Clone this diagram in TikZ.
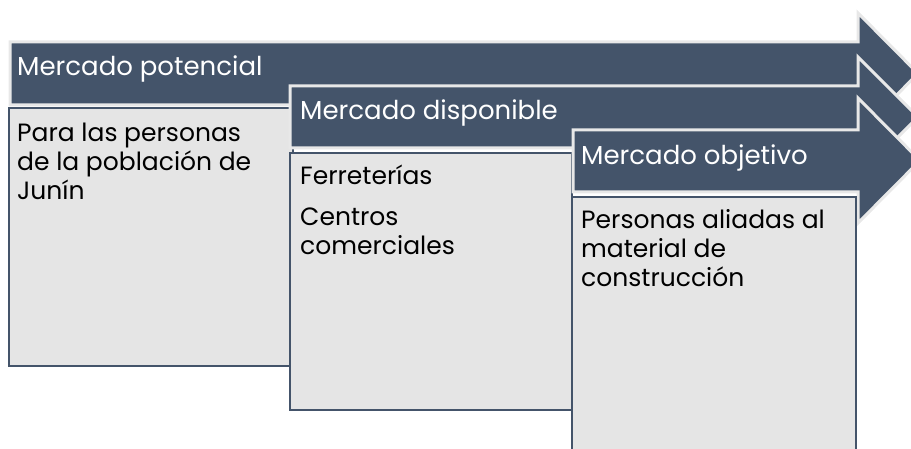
\documentclass[tikz,border=0pt]{standalone}
\usepackage{fontspec}
\setmainfont{Poppins}
\definecolor{slate}{HTML}{44546A}
\definecolor{boxfill}{HTML}{E5E5E5}
\definecolor{rim}{HTML}{E8E8E8}
\begin{document}
\begin{tikzpicture}[x=1pt,y=-1pt,
  arrowshape/.style={fill=slate,draw=rim,line width=3pt,line join=miter},
  textbox/.style={fill=boxfill,draw=slate,line width=1.8pt},
  headtext/.style={anchor=base west,inner sep=0pt,text=white,font=\fontsize{26}{29}\selectfont},
  bodytext/.style={anchor=base west,inner sep=0pt,text=black,align=left,font=\fontsize{25}{29}\selectfont}]
\useasboundingbox (0,0) rectangle (911,449);
\clip (0,0) rectangle (911,449);
% arrow 1
\draw[arrowshape] (10,42) -- (858,42) -- (858,13) -- (918,73.5) -- (858,134) -- (858,105) -- (10,105) -- cycle;
\draw[textbox] (9,108) rectangle (293,366);
\node[headtext] (h1) at (17,76) {Mercado potencial};
\node[bodytext] (b1) at (17,200) {Para las personas\\de la población de\\Junín};
% arrow 2
\draw[arrowshape] (290,86) -- (858,86) -- (858,57) -- (918,117) -- (858,177) -- (858,148) -- (290,148) -- cycle;
\draw[textbox] (290,153) rectangle (572,410);
\node[headtext] (h2) at (300,120) {Mercado disponible};
\node[bodytext] (b2a) at (300,185) {Ferreterías};
\node[bodytext] (b2b) at (300,255) {Centros\\comerciales};
% arrow 3
\draw[arrowshape] (573,130) -- (858,130) -- (858,98) -- (920,160.5) -- (858,223) -- (858,192) -- (573,192) -- cycle;
\draw[textbox] (572,197) rectangle (856,470);
\node[headtext] (h3) at (581,165) {Mercado objetivo};
\node[bodytext] (b3) at (581,287) {Personas aliadas al\\material de\\construcción};
\end{tikzpicture}
\end{document}
